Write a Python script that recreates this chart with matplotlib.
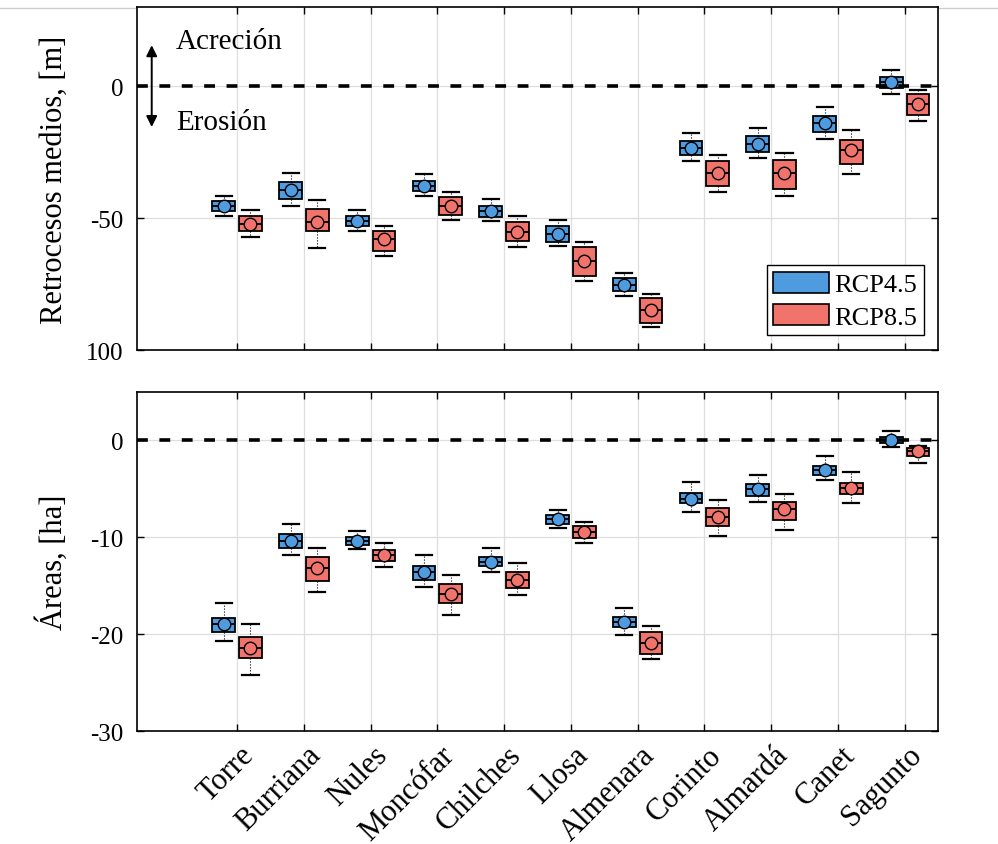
import matplotlib
matplotlib.use("Agg")
import matplotlib.pyplot as plt
from matplotlib.lines import Line2D
from matplotlib.patches import Patch
from matplotlib.transforms import ScaledTranslation
import numpy as np

plt.rcParams['font.family'] = ['Liberation Serif', 'DejaVu Serif']
plt.rcParams['axes.unicode_minus'] = False

sites = ['Torre', 'Burriana', 'Nules', 'Moncófar', 'Chilches', 'Llosa',
         'Almenara', 'Corinto', 'Almardá', 'Canet', 'Sagunto']

# Retrocesos medios [m]: whisker low, q1, median, q3, whisker high
ret45_lo = [-49.2, -45.5, -54.8, -41.5, -51.0, -60.7, -79.7, -28.5, -27.4, -20.0, -3.0]
ret45_q1 = [-47.4, -42.8, -52.9, -39.8, -49.5, -59.2, -77.8, -26.0, -25.1, -17.2, -0.9]
ret45_md = [-45.5, -39.4, -51.0, -37.9, -47.2, -56.0, -75.4, -23.5, -22.0, -13.8, 1.4]
ret45_q3 = [-43.6, -36.4, -49.1, -35.9, -45.3, -53.1, -72.7, -20.7, -18.8, -11.5, 3.5]
ret45_hi = [-41.7, -33.0, -46.8, -33.3, -42.8, -50.6, -70.8, -17.9, -15.9, -7.8, 6.0]

ret85_lo = [-57.2, -61.4, -64.3, -50.6, -61.1, -73.7, -91.4, -40.0, -41.5, -33.3, -13.1]
ret85_q1 = [-54.9, -55.0, -62.4, -48.7, -58.8, -71.8, -89.8, -37.8, -39.0, -29.5, -11.0]
ret85_md = [-52.3, -51.5, -58.0, -45.3, -55.2, -66.4, -84.8, -33.0, -33.1, -24.2, -6.8]
ret85_q3 = [-49.2, -46.6, -54.9, -42.0, -51.4, -61.1, -80.3, -28.5, -28.0, -20.5, -3.0]
ret85_hi = [-47.0, -43.2, -53.0, -40.0, -49.1, -59.2, -78.8, -26.0, -25.5, -16.7, -1.4]

# Áreas [ha]
area45_lo = [-20.7, -11.8, -11.2, -15.1, -13.6, -9.0, -20.1, -7.4, -6.4, -4.1, -0.7]
area45_q1 = [-19.8, -11.1, -10.8, -14.4, -13.0, -8.6, -19.3, -6.5, -5.7, -3.6, -0.3]
area45_md = [-19.0, -10.4, -10.4, -13.6, -12.5, -8.1, -18.7, -6.0, -5.0, -3.1, 0.0]
area45_q3 = [-18.3, -9.7, -10.0, -13.0, -12.0, -7.7, -18.2, -5.4, -4.5, -2.6, 0.4]
area45_hi = [-16.8, -8.6, -9.3, -11.8, -11.1, -7.2, -17.3, -4.3, -3.6, -1.6, 1.0]

area85_lo = [-24.2, -15.6, -13.1, -18.0, -16.0, -10.6, -22.6, -9.9, -9.2, -6.5, -2.3]
area85_q1 = [-22.5, -14.5, -12.4, -16.8, -15.2, -10.1, -22.0, -8.8, -8.2, -5.5, -1.6]
area85_md = [-21.4, -13.2, -11.8, -15.9, -14.4, -9.5, -20.9, -7.9, -7.1, -4.9, -1.1]
area85_q3 = [-20.3, -12.0, -11.3, -14.8, -13.6, -8.8, -19.8, -7.0, -6.4, -4.4, -0.75]
area85_hi = [-19.0, -11.1, -10.6, -13.9, -12.7, -8.4, -19.2, -6.1, -5.5, -3.3, -0.6]

c45 = '#4f9be0'
c85 = '#f0736c'


def stats(lo, q1, md, q3, hi):
    return [dict(whislo=a, q1=b, med=c, mean=c, q3=d, whishi=e, fliers=[])
            for a, b, c, d, e in zip(lo, q1, md, q3, hi)]


def draw_boxes(ax, st, pos, color):
    ax.bxp(st, positions=pos, widths=0.34, capwidths=0.24, patch_artist=True,
           showmeans=True, manage_ticks=False,
           boxprops=dict(facecolor=color, edgecolor='black', linewidth=1.3),
           medianprops=dict(color='black', linewidth=1.3),
           whiskerprops=dict(color='black', linewidth=0.8, linestyle=':'),
           capprops=dict(color='black', linewidth=1.6),
           meanprops=dict(marker='o', markerfacecolor=color,
                          markeredgecolor='black', markersize=9,
                          markeredgewidth=1.0),
           zorder=3)


def style_axis(ax):
    ax.set_xlim(-0.5, 11.5)
    ax.set_xticks(x)
    ax.grid(True, color='#dedede', linewidth=0.9)
    ax.set_axisbelow(True)
    ax.tick_params(direction='in', top=True, right=True, length=5,
                   width=1.0, labelsize=18, pad=10)
    for sp in ax.spines.values():
        sp.set_linewidth(1.2)
    ax.axhline(0, color='black', linewidth=2.6, linestyle=(0, (3.0, 3.2)),
               zorder=4)


x = np.arange(1, len(sites) + 1)
dx = 0.2

fig = plt.figure(figsize=(9.98, 8.45), dpi=100)
ax1 = fig.add_axes([0.1373, 0.5846, 0.8026, 0.4060])
ax2 = fig.add_axes([0.1373, 0.1337, 0.8026, 0.4012])

# retrocesos
draw_boxes(ax1, stats(ret45_lo, ret45_q1, ret45_md, ret45_q3, ret45_hi), x - dx, c45)
draw_boxes(ax1, stats(ret85_lo, ret85_q1, ret85_md, ret85_q3, ret85_hi), x + dx, c85)
style_axis(ax1)
ax1.set_ylim(-100, 30)
ax1.set_yticks([-100, -50, 0])
ax1.set_yticklabels(['100', '-50', '0'])
ax1.set_xticklabels([])
ax1.set_ylabel('Retrocesos medios, [m]', fontsize=22)
ax1.yaxis.set_label_coords(-0.085, 0.5)

ax1.annotate('', xy=(-0.28, 15.5), xytext=(-0.28, -15.5),
             arrowprops=dict(arrowstyle='<|-|>', color='black', lw=1.4,
                             mutation_scale=16, shrinkA=0, shrinkB=0))
ax1.text(0.08, 17, 'Acreción', fontsize=21, va='center', ha='left')
ax1.text(0.08, -13.6, 'Erosión', fontsize=21, va='center', ha='left')

handles = [Patch(facecolor=c45, edgecolor='black', linewidth=1.2, label='RCP4.5'),
           Patch(facecolor=c85, edgecolor='black', linewidth=1.2, label='RCP8.5')]
leg = ax1.legend(handles=handles, loc='lower right', fontsize=19,
                 fancybox=False, framealpha=1, edgecolor='black',
                 handlelength=2.1, handleheight=0.85, handletextpad=0.2,
                 borderpad=0.25, labelspacing=0.3, borderaxespad=0.55)
leg.get_frame().set_linewidth(1.0)

# áreas
draw_boxes(ax2, stats(area45_lo, area45_q1, area45_md, area45_q3, area45_hi), x - dx, c45)
draw_boxes(ax2, stats(area85_lo, area85_q1, area85_md, area85_q3, area85_hi), x + dx, c85)
style_axis(ax2)
ax2.set_ylim(-30, 5)
ax2.set_yticks([-30, -20, -10, 0])
ax2.set_xticklabels(sites, fontsize=22, rotation=45, ha='right',
                    va='center', rotation_mode='anchor')
shift = ScaledTranslation(9 / 72, -4 / 72, fig.dpi_scale_trans)
for lbl in ax2.get_xticklabels():
    lbl.set_transform(lbl.get_transform() + shift)
ax2.set_ylabel('Áreas, [ha]', fontsize=22)
ax2.yaxis.set_label_coords(-0.085, 0.5)

fig.add_artist(Line2D([0, 1], [1 - 8.5 / 845] * 2, color='#cccccc',
                      linewidth=1.0, transform=fig.transFigure, zorder=0))

fig.savefig('out.png', dpi=100)
